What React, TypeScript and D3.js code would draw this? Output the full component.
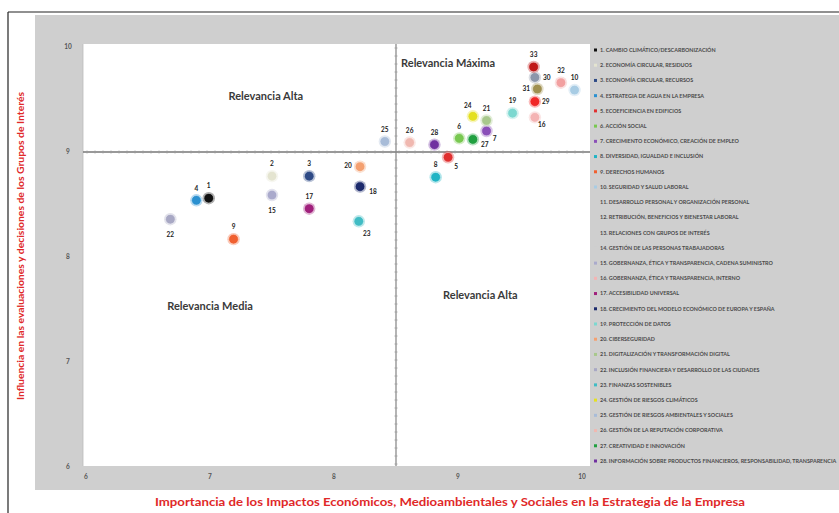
import React from "react";
import * as d3 from "d3";

const pointLabels = ["1","2","3","4","5","6","7","8","9","10","15","16","17","18","19","20","32","21","22","23","24","25","26","27","28","29","30","31","33"];
const impactValues = [6.99,7.50,7.80,6.89,8.92,9.01,9.23,8.82,7.19,9.94,7.50,9.62,7.80,8.21,9.44,8.21,9.83,9.23,6.68,8.20,9.12,8.41,8.61,9.12,8.81,9.62,9.62,9.64,9.61];
const influenceValues = [8.56,8.77,8.77,8.54,8.95,9.13,9.20,8.76,8.17,9.59,8.59,9.33,8.46,8.67,9.37,8.86,9.66,9.30,8.36,8.34,9.34,9.10,9.09,9.12,9.07,9.48,9.71,9.60,9.81];
const pointColors = ["#111111","#e4e4d0","#2e4a86","#2a90d0","#e03030","#78c850","#8a4fb8","#20b4c4","#f06030","#a8cce4","#aaaacc","#f4b4b4","#a0207c","#1c2a6c","#7cd8d0","#f4a070","#f2a0a0","#a8c88c","#a8a8c4","#40bcc4","#e4e020","#a8bcd8","#f0b8b0","#20a040","#7030a0","#f02828","#8c96aa","#a09050","#c01818"];

const xTicks = [6,7,8,9,10];
const yTicks = [6,7,8,9,10];

const legendItems = [
  "1. CAMBIO CLIMÁTICO/DESCARBONIZACIÓN",
  "2. ECONOMÍA CIRCULAR, RESIDUOS",
  "3. ECONOMÍA CIRCULAR, RECURSOS",
  "4. ESTRATEGIA DE AGUA EN LA EMPRESA",
  "5. ECOEFICIENCIA EN EDIFICIOS",
  "6. ACCIÓN SOCIAL",
  "7. CRECIMIENTO ECONÓMICO, CREACIÓN DE EMPLEO",
  "8. DIVERSIDAD, IGUALDAD E INCLUSIÓN",
  "9. DERECHOS HUMANOS",
  "10. SEGURIDAD Y SALUD LABORAL",
  "11. DESARROLLO PERSONAL Y ORGANIZACIÓN PERSONAL",
  "12. RETRIBUCIÓN, BENEFICIOS Y BIENESTAR LABORAL",
  "13. RELACIONES CON GRUPOS DE INTERÉS",
  "14. GESTIÓN DE LAS PERSONAS TRABAJADORAS",
  "15. GOBERNANZA, ÉTICA Y TRANSPARENCIA, CADENA SUMINISTRO",
  "16. GOBERNANZA, ÉTICA Y TRANSPARENCIA, INTERNO",
  "17. ACCESIBILIDAD UNIVERSAL",
  "18. CRECIMIENTO DEL MODELO ECONÓMICO DE EUROPA Y ESPAÑA",
  "19. PROTECCIÓN DE DATOS",
  "20. CIBERSEGURIDAD",
  "21. DIGITALIZACIÓN Y TRANSFORMACIÓN DIGITAL",
  "22. INCLUSIÓN FINANCIERA Y DESARROLLO DE LAS CIUDADES",
  "23. FINANZAS SOSTENIBLES",
  "24. GESTIÓN DE RIESGOS CLIMÁTICOS",
  "25. GESTIÓN DE RIESGOS AMBIENTALES Y SOCIALES",
  "26. GESTIÓN DE LA REPUTACIÓN CORPORATIVA",
  "27. CREATIVIDAD E INNOVACIÓN",
  "28. INFORMACIÓN SOBRE PRODUCTOS FINANCIEROS, RESPONSABILIDAD, TRANSPARENCIA",
];

const quadrantTexts = ["Relevancia Alta", "Relevancia Máxima", "Relevancia Media", "Relevancia Alta"];
const quadrantAnchors = [[7.45, 9.53], [8.92, 9.85], [7.0, 7.53], [9.18, 7.64]];

const labelOffsets: Record<string, [number, number]> = {
  "5": [8, 9], "7": [8, 8], "16": [7, 7], "23": [8, 12], "27": [12, 5],
  "18": [13, 5], "29": [11, 0], "30": [12, 0], "20": [-12, -1], "31": [-11, 0],
  "15": [0, 16], "22": [0, 16], "24": [-5, -11],
};

export default function App() {
  const W = 839, H = 513;
  const x = d3.scaleLinear().domain([6, 10]).range([86, 582]);
  const y = d3.scaleLinear().domain([6, 10]).range([467, 47]);
  const plotL = 83, plotR = 590, plotT = 44, plotB = 466;
  const legendRowY = d3.scaleLinear().domain([0, legendItems.length - 1]).range([50, 461]);

  const hTicks = d3.range(plotL + 4, plotR, 8);
  const vTicks = d3.range(plotT + 4, plotB, 8);

  return (
    <svg width={W} height={H} style={{ position: "absolute", left: 0, top: 0, background: "#fff" }}>
      <rect x={35} y={15} width={W - 35} height={475} fill="#cfcfcf" />
      <line x1={8} y1={12} x2={W} y2={12} stroke="#222" strokeWidth={1.2} />
      <line x1={8} y1={12} x2={8} y2={H} stroke="#222" strokeWidth={1.2} />
      <rect x={plotL} y={plotT} width={plotR - plotL} height={plotB - plotT} fill="#ffffff" />
      <line x1={plotL} y1={plotT} x2={plotL} y2={plotB} stroke="#bbb" strokeWidth={0.8} />

      {yTicks.map((t) => (
        <text key={"y" + t} x={68} y={y(t)} dy="0.35em" textAnchor="middle" fontFamily="Lato" fontWeight="bold" fontSize={6.5} fill="#555">{t}</text>
      ))}
      {xTicks.map((t) => (
        <text key={"x" + t} x={x(t)} y={477} dy="0.35em" textAnchor="middle" fontFamily="Lato" fontWeight="bold" fontSize={6.5} fill="#555">{t}</text>
      ))}

      {/* reference lines */}
      <line x1={plotL} x2={plotR} y1={y(9)} y2={y(9)} stroke="#777" strokeWidth={1.3} />
      {hTicks.map((t) => (
        <line key={"ht" + t} x1={t} x2={t} y1={y(9) - 1.5} y2={y(9) + 1.5} stroke="#999" strokeWidth={0.8} />
      ))}
      <line x1={x(8.5)} x2={x(8.5)} y1={plotT} y2={plotB} stroke="#777" strokeWidth={1.1} />
      {vTicks.map((t) => (
        <line key={"vt" + t} x1={x(8.5) - 1.5} x2={x(8.5) + 1.5} y1={t} y2={t} stroke="#999" strokeWidth={0.8} />
      ))}

      {quadrantTexts.map((q, i) => (
        <text key={"q" + i} x={x(quadrantAnchors[i][0])} y={y(quadrantAnchors[i][1])} dy="0.35em" textAnchor="middle" fontFamily="Lato" fontWeight="bold" fontSize={11} fill="#3a3a3a">{q}</text>
      ))}

      {pointLabels.map((lab, i) => {
        const cx = x(impactValues[i]);
        const cy = y(influenceValues[i]);
        const off = labelOffsets[lab] || [0, -12];
        return (
          <g key={"p" + i}>
            <circle cx={cx} cy={cy} r={6.2} fill={pointColors[i]} opacity={0.35} />
            <circle cx={cx} cy={cy} r={4.8} fill={pointColors[i]} stroke="#ffffff" strokeOpacity={0.5} strokeWidth={0.8} />
            <text x={cx + off[0]} y={cy + off[1]} dy="0.35em" textAnchor="middle" fontFamily="Lato" fontWeight="bold" fontSize={6.5} fill="#222">{lab}</text>
          </g>
        );
      })}

      {legendItems.map((item, i) => (
        <g key={"l" + i}>
          <rect x={594} y={legendRowY(i) - 1.5} width={3} height={3} fill={pointColors[pointLabels.indexOf(String(i + 1))] || "#cfcfcf"} />
          <text x={600} y={legendRowY(i)} dy="0.35em" fontFamily="Lato" fontWeight="bold" fontSize={5.4} fill="#4a4a4a">{item}</text>
        </g>
      ))}

      <text transform={`translate(21,${246}) rotate(-90)`} textAnchor="middle" dy="0.35em" fontFamily="Lato" fontWeight="bold" fontSize={8.5} fill="#e02828" textLength={308} lengthAdjust="spacingAndGlyphs">Influencia en las evaluaciones y decisiones de los Grupos de Interés</text>
      <text x={450} y={502} textAnchor="middle" dy="0.35em" fontFamily="Lato" fontWeight="bold" fontSize={11} fill="#e02828" textLength={590} lengthAdjust="spacingAndGlyphs">Importancia de los Impactos Económicos, Medioambientales y Sociales en la Estrategia de la Empresa</text>
    </svg>
  );
}
